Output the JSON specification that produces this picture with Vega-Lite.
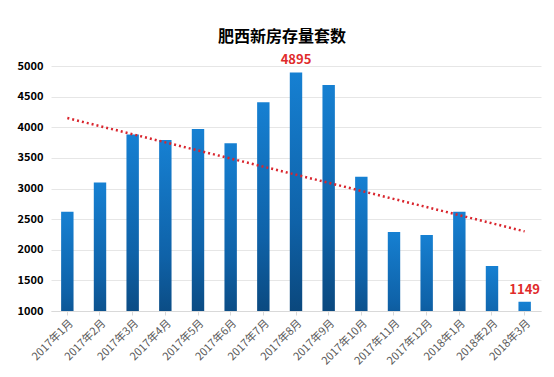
{
  "$schema": "https://vega.github.io/schema/vega-lite/v6.json",
  "width": 490,
  "height": 245,
  "autosize": "none",
  "padding": {"left": 51, "top": 66, "right": 13, "bottom": 66},
  "background": "white",
  "title": {
    "text": "肥西新房存量套数",
    "font": "Noto Sans CJK SC",
    "fontSize": 16,
    "fontWeight": "bold",
    "color": "#000000",
    "anchor": "middle",
    "dx": -14,
    "offset": 9
  },
  "config": {
    "view": {"stroke": null},
    "axis": {"labelFont": "Noto Sans CJK SC", "titleFont": "Noto Sans CJK SC"},
    "axisY": {
      "title": null,
      "values": [1000, 1500, 2000, 2500, 3000, 3500, 4000, 4500, 5000],
      "format": "d",
      "labelFontSize": 11,
      "labelFontWeight": "bold",
      "labelColor": "#000000",
      "labelOverlap": false,
      "domain": false,
      "ticks": false,
      "labelPadding": 8,
      "gridColor": "#e6e6e6"
    }
  },
  "data": {
    "values": [
      {"month": "2017年1月", "value": 2620},
      {"month": "2017年2月", "value": 3100},
      {"month": "2017年3月", "value": 3880},
      {"month": "2017年4月", "value": 3790},
      {"month": "2017年5月", "value": 3970},
      {"month": "2017年6月", "value": 3740},
      {"month": "2017年7月", "value": 4410},
      {"month": "2017年8月", "value": 4895, "label": "4895"},
      {"month": "2017年9月", "value": 4690},
      {"month": "2017年10月", "value": 3190},
      {"month": "2017年11月", "value": 2290},
      {"month": "2017年12月", "value": 2240},
      {"month": "2018年1月", "value": 2620},
      {"month": "2018年2月", "value": 1735},
      {"month": "2018年3月", "value": 1149, "label": "1149"}
    ]
  },
  "encoding": {
    "x": {
      "field": "month",
      "type": "ordinal",
      "sort": null,
      "scale": {"paddingInner": 0.62, "paddingOuter": 0.31},
      "axis": {
        "title": null,
        "labelAngle": -45,
        "labelFontSize": 11,
        "labelColor": "#595959",
        "domainColor": "#d9d9d9",
        "tickColor": "#d9d9d9",
        "tickSize": 4,
        "labelPadding": 2,
        "labelOverlap": false
      }
    }
  },
  "layer": [
    {
      "mark": {
        "type": "bar",
        "clip": true,
        "color": {
          "gradient": "linear",
          "x1": 0, "y1": 0, "x2": 0, "y2": 1,
          "stops": [
            {"offset": 0, "color": "#1680d2"},
            {"offset": 0.5, "color": "#0f62a8"},
            {"offset": 1, "color": "#07355f"}
          ]
        }
      },
      "encoding": {
        "y": {
          "field": "value",
          "type": "quantitative",
          "title": null,
          "scale": {"domain": [1000, 5000], "nice": false, "zero": false}
        }
      }
    },
    {
      "transform": [{"filter": "isValid(datum.label)"}],
      "mark": {
        "type": "text",
        "baseline": "bottom",
        "dy": -5,
        "color": "#e02b2b",
        "fontWeight": "bold",
        "fontSize": 13,
        "font": "Noto Sans CJK SC"
      },
      "encoding": {
        "y": {"field": "value", "type": "quantitative", "title": null, "scale": {"domain": [1000, 5000], "nice": false, "zero": false}},
        "text": {"field": "label"}
      }
    },
    {
      "data": {
        "values": [
          {"month": "2017年1月", "trend": 4150},
          {"month": "2018年3月", "trend": 2300}
        ]
      },
      "mark": {
        "type": "line",
        "color": "#d9262e",
        "strokeWidth": 2.5,
        "strokeDash": [2, 3]
      },
      "encoding": {
        "y": {"field": "trend", "type": "quantitative", "title": null, "scale": {"domain": [1000, 5000], "nice": false, "zero": false}}
      }
    }
  ]
}
